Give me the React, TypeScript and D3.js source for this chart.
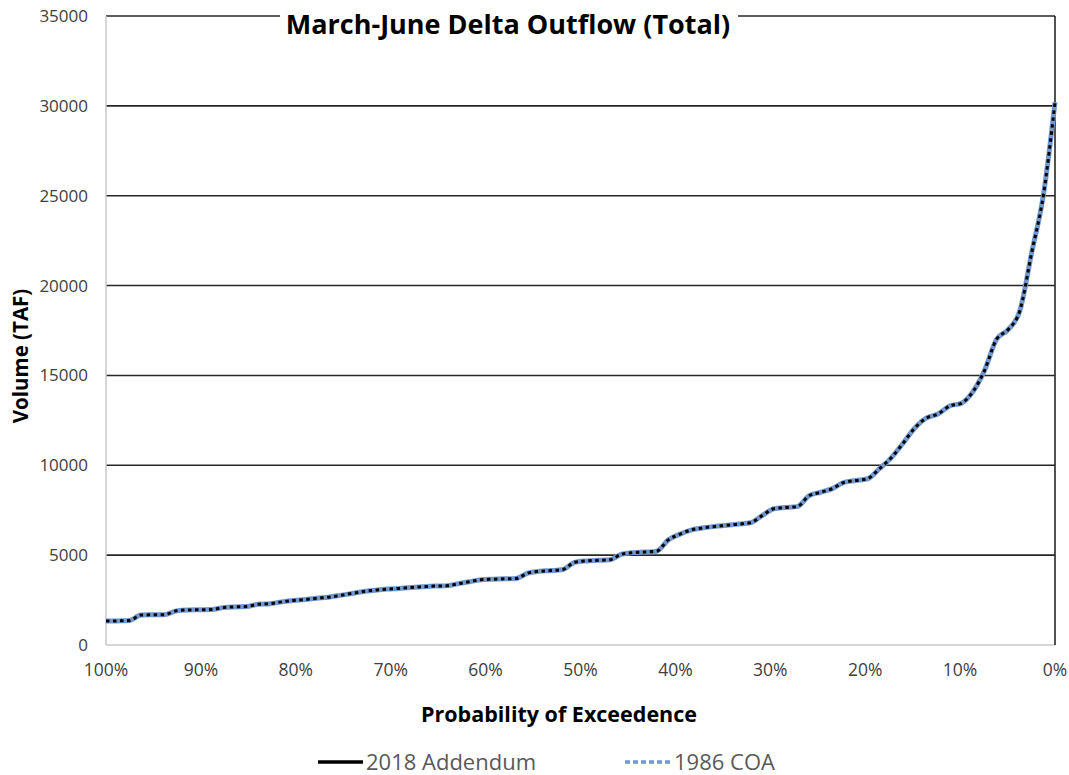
import React from "react";
import * as d3 from "d3";

const values2018: number[] = [
  1330, 1340, 1360, 1670, 1680, 1690, 1900, 1950, 1960, 1970,
  2080, 2120, 2140, 2270, 2300, 2400, 2480, 2530, 2600, 2660,
  2760, 2870, 2980, 3050, 3110, 3150, 3200, 3240, 3280, 3290,
  3400, 3520, 3630, 3660, 3680, 3700, 4000, 4100, 4140, 4200,
  4600, 4680, 4710, 4740, 5050, 5140, 5170, 5220, 5850, 6170,
  6410, 6520, 6600, 6660, 6730, 6800, 7200, 7580, 7650, 7700,
  8300, 8500, 8700, 9050, 9150, 9250, 9800, 10400, 11200, 12050,
  12620, 12850, 13300, 13450, 14100, 15300, 17000, 17550, 18600, 21800,
  25000, 30200,
];
const values1986: number[] = [
  1330, 1340, 1360, 1670, 1680, 1690, 1900, 1950, 1960, 1970,
  2080, 2120, 2140, 2270, 2300, 2400, 2480, 2530, 2600, 2660,
  2760, 2870, 2980, 3050, 3110, 3150, 3200, 3240, 3280, 3290,
  3400, 3520, 3630, 3660, 3680, 3700, 4000, 4100, 4140, 4200,
  4600, 4680, 4710, 4740, 5050, 5140, 5170, 5220, 5850, 6170,
  6410, 6520, 6600, 6660, 6730, 6800, 7200, 7580, 7650, 7700,
  8300, 8500, 8700, 9050, 9150, 9250, 9800, 10400, 11200, 12050,
  12620, 12850, 13300, 13450, 14100, 15300, 17000, 17550, 18600, 21800,
  25000, 30200,
];
const yTicks: number[] = [0, 5000, 10000, 15000, 20000, 25000, 30000, 35000];
const xTicks: number[] = [1, 0.9, 0.8, 0.7, 0.6, 0.5, 0.4, 0.3, 0.2, 0.1, 0];
const seriesNames: string[] = ["2018 Addendum", "1986 COA"];

const FONT = "'Open Sans', 'Noto Sans', sans-serif";

export default function App() {
  const W = 1069, H = 775;
  const left = 106, right = 1055, top = 16, bottom = 645;
  const x = d3.scaleLinear().domain([1, 0]).range([left, right]);
  const y = d3.scaleLinear().domain([0, 35000]).range([bottom, top]);
  const n = values2018.length;
  const prob = (i: number) => 1 - i / (n - 1);
  const line = d3
    .line<number>()
    .x((_, i) => x(prob(i)))
    .y((d) => y(d))
    .curve(d3.curveMonotoneX);

  return (
    <svg
      width={W}
      height={H}
      style={{ position: "absolute", left: 0, top: 0, background: "#fff" }}
      fontFamily={FONT}
    >
      {yTicks.filter((t) => t > 0).map((t) => (
        <line key={t} x1={left} x2={right} y1={y(t)} y2={y(t)} stroke="#262626" strokeWidth={1.6} />
      ))}
      <line x1={left} x2={left} y1={top} y2={bottom} stroke="#c8c8c8" strokeWidth={1.5} />
      <line x1={left} x2={right} y1={bottom} y2={bottom} stroke="#c8c8c8" strokeWidth={1.5} />
      <line x1={right} x2={right} y1={top} y2={bottom} stroke="#262626" strokeWidth={1.6} />

      {yTicks.map((t) => (
        <text key={t} x={88} y={y(t)} dy="0.35em" textAnchor="end" fontSize={17} fill="#404040">
          {t}
        </text>
      ))}
      {xTicks.map((t) => (
        <text key={t} x={x(t)} y={670} dy="0.35em" textAnchor="middle" fontSize={17.5} fill="#404040">
          {d3.format(".0%")(t)}
        </text>
      ))}

      <path d={line(values1986) || ""} fill="none" stroke="#7099d0" strokeWidth={5} />
      <path d={line(values2018) || ""} fill="none" stroke="#000" strokeWidth={3} strokeDasharray="3.5,3.5" />

      <rect x={280} y={2} width={458} height={34} fill="#fff" />
      <text x={508} y={25} dy="0.35em" textAnchor="middle" fontSize={27} fontWeight="bold" fill="#000">
        March-June Delta Outflow (Total)
      </text>

      <text
        transform={`translate(21,356) rotate(-90)`}
        textAnchor="middle"
        dy="0.35em"
        fontSize={20.5}
        fontWeight="bold"
        fill="#000"
      >
        Volume (TAF)
      </text>
      <text x={559} y={714} dy="0.35em" textAnchor="middle" fontSize={21.5} fontWeight="bold" fill="#000">
        Probability of Exceedence
      </text>

      <line x1={318} x2={363} y1={762} y2={762} stroke="#000" strokeWidth={3.5} />
      <text x={366} y={762} dy="0.35em" fontSize={22} fill="#595959">
        {seriesNames[0]}
      </text>
      <line x1={625} x2={671} y1={762} y2={762} stroke="#7099d0" strokeWidth={3.5} strokeDasharray="5,3" />
      <text x={674} y={762} dy="0.35em" fontSize={22} fill="#595959">
        {seriesNames[1]}
      </text>
    </svg>
  );
}
